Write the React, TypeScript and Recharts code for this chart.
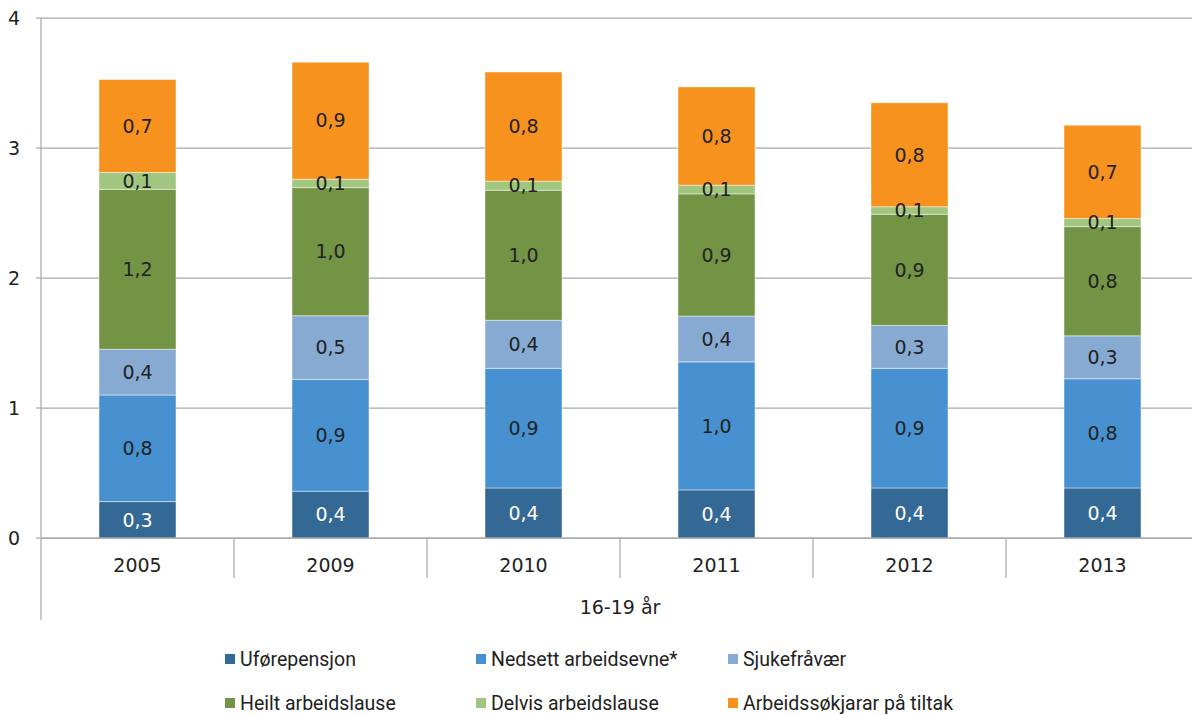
import { BarChart, Bar, XAxis, YAxis, CartesianGrid, LabelList } from 'recharts';

const years = ['2005', '2009', '2010', '2011', '2012', '2013'];
const uforepensjon = [0.28, 0.36, 0.385, 0.37, 0.385, 0.385];
const nedsett = [0.82, 0.86, 0.92, 0.985, 0.92, 0.84];
const sjukefravaer = [0.352, 0.49, 0.37, 0.352, 0.33, 0.33];
const heilt = [1.23, 0.985, 1.0, 0.94, 0.855, 0.84];
const delvis = [0.13, 0.065, 0.07, 0.067, 0.058, 0.062];
const tiltak = [0.715, 0.9, 0.84, 0.756, 0.8, 0.718];
const yTicks = [0, 1, 2, 3, 4];
const groupLabel = '16-19 år';

const series = [
  { key: 'ufore', name: 'Uførepensjon', color: '#346895', values: uforepensjon, labelColor: '#ffffff' },
  { key: 'nedsett', name: 'Nedsett arbeidsevne*', color: '#4891D0', values: nedsett, labelColor: '#222222' },
  { key: 'sjuke', name: 'Sjukefråvær', color: '#87AAD3', values: sjukefravaer, labelColor: '#222222' },
  { key: 'heilt', name: 'Heilt arbeidslause', color: '#739345', values: heilt, labelColor: '#222222' },
  { key: 'delvis', name: 'Delvis arbeidslause', color: '#A0C67F', values: delvis, labelColor: '#222222' },
  { key: 'tiltak', name: 'Arbeidssøkjarar på tiltak', color: '#F7921E', values: tiltak, labelColor: '#222222' },
];

const data = years.map((year, i) => {
  const row: any = { year };
  series.forEach(s => { row[s.key] = s.values[i]; });
  return row;
});

const CHART_W = 1200;
const CHART_H = 715;
const Y_AXIS_W = 41;
const RIGHT = 1;
const PLOT_W = CHART_W - Y_AXIS_W - RIGHT;
const GRID = '#A8A8A8';
const FONT = '"DejaVu Sans", Verdana, sans-serif';

const fmt = (v: any) => Number(v).toFixed(1).replace('.', ',');

function YearTick({ x, y, payload, index }: any) {
  const band = PLOT_W / years.length;
  const left = x - band / 2;
  return (
    <g>
      <line x1={left} y1={y} x2={left} y2={y + (index === 0 ? 82 : 40)} stroke={GRID} strokeWidth={1.25} />
      <text x={x} y={y + 34} textAnchor="middle" fill="#222" fontSize={19} fontFamily={FONT}>
        {payload.value}
      </text>
      {index === 0 && (
        <text x={left + PLOT_W / 2} y={y + 76} textAnchor="middle" fill="#222" fontSize={19} fontFamily={FONT}>
          {groupLabel}
        </text>
      )}
    </g>
  );
}

export default function App() {
  return (
    <div style={{ position: 'fixed', left: 0, top: 0, width: 1192, height: 715, overflow: 'hidden', background: '#fff' }}>
      <BarChart
        width={CHART_W}
        height={CHART_H}
        data={data}
        margin={{ top: 18, right: RIGHT, left: 0, bottom: 137 }}
      >
        <CartesianGrid vertical={false} stroke={GRID} strokeWidth={1.25} />
        <XAxis
          dataKey="year"
          height={40}
          tickLine={false}
          tickSize={0}
          tickMargin={0}
          axisLine={{ stroke: GRID, strokeWidth: 1.25 }}
          tick={<YearTick />}
          interval={0}
        />
        <YAxis
          width={Y_AXIS_W}
          domain={[0, 4]}
          ticks={yTicks}
          tickSize={5}
          tickMargin={16}
          axisLine={{ stroke: GRID, strokeWidth: 1.25 }}
          tickLine={{ stroke: GRID, strokeWidth: 1.25 }}
          tick={{ fill: '#222', fontSize: 19, fontFamily: FONT }}
        />
        {series.map(s => (
          <Bar
            key={s.key}
            dataKey={s.key}
            name={s.name}
            stackId="a"
            fill={s.color}
            barSize={77}
            stroke="rgba(255,255,255,0.45)"
            strokeWidth={1}
            isAnimationActive={false}
          >
            <LabelList
              dataKey={s.key}
              position="center"
              formatter={fmt}
              fill={s.labelColor}
              fontSize={19}
              fontFamily={FONT}
            />
          </Bar>
        ))}
      </BarChart>
      <div
        style={{
          position: 'absolute',
          left: 225,
          top: 647,
          display: 'grid',
          gridTemplateColumns: '251px 252px auto',
          rowGap: 20,
          fontFamily: 'Roboto, sans-serif',
          fontSize: 19.5,
          color: '#222',
        }}
      >
        {series.map(s => (
          <div key={s.key} style={{ display: 'flex', alignItems: 'center', height: 24 }}>
            <span style={{ width: 10, height: 10, background: s.color, marginRight: 5, display: 'inline-block' }} />
            <span>{s.name}</span>
          </div>
        ))}
      </div>
    </div>
  );
}
